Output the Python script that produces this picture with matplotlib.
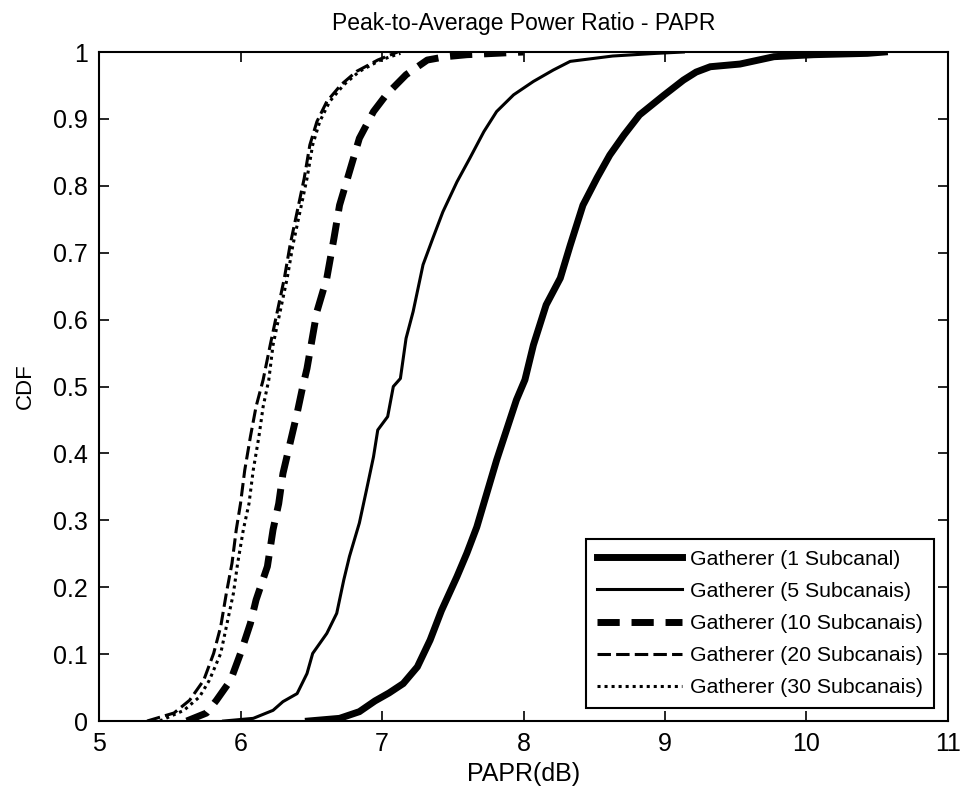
import matplotlib
matplotlib.use("Agg")
import matplotlib.pyplot as plt

plt.rcParams['font.family'] = ['Liberation Sans', 'DejaVu Sans']

# CDF curves (x = PAPR in dB, y = CDF)
x_1 = [6.48, 6.70, 6.84, 6.95, 7.05, 7.15, 7.25, 7.34, 7.42, 7.53, 7.60, 7.67, 7.74, 7.81,
       7.88, 7.95, 8.01, 8.07, 8.16, 8.26, 8.33, 8.42, 8.52, 8.61, 8.71, 8.82, 8.99,
       9.13, 9.22, 9.32, 9.53, 9.77, 10.05, 10.43, 10.55]
y_1 = [0.0, 0.004, 0.014, 0.030, 0.042, 0.056, 0.081, 0.121, 0.165, 0.216, 0.251, 0.290,
       0.340, 0.390, 0.435, 0.480, 0.510, 0.562, 0.622, 0.662, 0.711, 0.771, 0.812, 0.846,
       0.876, 0.906, 0.935, 0.958, 0.970, 0.978, 0.982, 0.993, 0.996, 0.998, 1.0]

x_5 = [5.88, 6.09, 6.23, 6.30, 6.40, 6.47, 6.51, 6.61, 6.68, 6.73, 6.77, 6.84, 6.89, 6.94,
       6.97, 7.04, 7.08, 7.13, 7.17, 7.22, 7.29, 7.36, 7.43, 7.53, 7.62, 7.72, 7.81, 7.93,
       8.07, 8.21, 8.33, 8.63, 8.94, 9.13]
y_5 = [0.0, 0.004, 0.016, 0.029, 0.041, 0.071, 0.101, 0.131, 0.161, 0.211, 0.246, 0.296,
       0.345, 0.395, 0.435, 0.455, 0.500, 0.512, 0.572, 0.612, 0.682, 0.722, 0.761, 0.806,
       0.841, 0.881, 0.911, 0.936, 0.956, 0.973, 0.986, 0.994, 0.998, 1.0]

x_10 = [5.62, 5.76, 5.83, 5.93, 6.00, 6.07, 6.11, 6.19, 6.23, 6.27, 6.30, 6.35, 6.40, 6.44,
        6.47, 6.54, 6.61, 6.66, 6.70, 6.77, 6.84, 6.94, 7.03, 7.17, 7.32, 7.45, 7.60, 8.00]
y_10 = [0.0, 0.012, 0.031, 0.061, 0.101, 0.146, 0.181, 0.231, 0.286, 0.325, 0.370, 0.415,
        0.460, 0.500, 0.527, 0.612, 0.662, 0.721, 0.771, 0.821, 0.871, 0.911, 0.936, 0.966,
        0.988, 0.993, 0.996, 1.0]

x_20 = [5.34, 5.53, 5.64, 5.74, 5.81, 5.86, 5.90, 5.94, 5.97, 6.00, 6.03, 6.07, 6.11, 6.16,
        6.21, 6.26, 6.31, 6.35, 6.40, 6.45, 6.49, 6.54, 6.61, 6.71, 6.82, 6.97, 7.11]
y_20 = [0.0, 0.012, 0.031, 0.061, 0.101, 0.141, 0.191, 0.236, 0.286, 0.325, 0.375, 0.425,
        0.470, 0.510, 0.562, 0.612, 0.662, 0.711, 0.761, 0.811, 0.861, 0.896, 0.926, 0.951,
        0.971, 0.988, 1.0]

x_30 = [5.43, 5.60, 5.71, 5.78, 5.86, 5.90, 5.95, 5.98, 6.02, 6.06, 6.09, 6.13, 6.16, 6.20,
        6.23, 6.28, 6.33, 6.37, 6.42, 6.47, 6.51, 6.56, 6.63, 6.73, 6.84, 6.99, 7.13]
y_30 = [0.0, 0.016, 0.036, 0.061, 0.101, 0.141, 0.191, 0.236, 0.286, 0.325, 0.375, 0.425,
        0.470, 0.510, 0.562, 0.612, 0.662, 0.711, 0.761, 0.811, 0.861, 0.896, 0.926, 0.951,
        0.971, 0.988, 0.998]

labels = ["Gatherer (1 Subcanal)", "Gatherer (5 Subcanais)", "Gatherer (10 Subcanais)",
          "Gatherer (20 Subcanais)", "Gatherer (30 Subcanais)"]
x_ticks = [5, 6, 7, 8, 9, 10, 11]
y_ticks = [0, 0.1, 0.2, 0.3, 0.4, 0.5, 0.6, 0.7, 0.8, 0.9, 1]
y_ticklabels = ["0", "0.1", "0.2", "0.3", "0.4", "0.5", "0.6", "0.7", "0.8", "0.9", "1"]

fig = plt.figure(figsize=(9.64, 7.94), dpi=100)
ax = fig.add_axes([0.1027, 0.0919, 0.8807, 0.8426])

ax.plot(x_1, y_1, color="black", lw=5, solid_joinstyle="miter", label=labels[0])
ax.plot(x_5, y_5, color="black", lw=2.2, label=labels[1])
ax.plot(x_10, y_10, color="black", lw=5, linestyle=(0, (3.2, 1.7)), label=labels[2])
ax.plot(x_20, y_20, color="black", lw=2.2, linestyle=(0, (4.4, 1.7)), label=labels[3])
ax.plot(x_30, y_30, color="black", lw=2.2, linestyle=(0, (1, 1.3)), label=labels[4])

ax.set_xlim(5, 11)
ax.set_ylim(0, 1)
ax.set_xticks(x_ticks)
ax.set_yticks(y_ticks)
ax.set_yticklabels(y_ticklabels)
ax.tick_params(direction="in", length=7, width=1.2, top=True, right=True,
               labelsize=18, pad=8)
for s in ax.spines.values():
    s.set_linewidth(1.5)

ax.set_title("Peak-to-Average Power Ratio - PAPR", fontsize=16.5, pad=16)
ax.set_xlabel("PAPR(dB)", fontsize=18, labelpad=4)
ax.set_ylabel("CDF", fontsize=16, labelpad=12)

leg = ax.legend(loc="lower right", bbox_to_anchor=(0.9835, 0.0194), borderaxespad=0,
                fontsize=15.3, handlelength=4.0, handletextpad=0.4, labelspacing=0.62,
                borderpad=0.5, fancybox=False, framealpha=1)
leg.get_frame().set_edgecolor("black")
leg.get_frame().set_linewidth(1.5)

fig.savefig("out.png", dpi=100)
